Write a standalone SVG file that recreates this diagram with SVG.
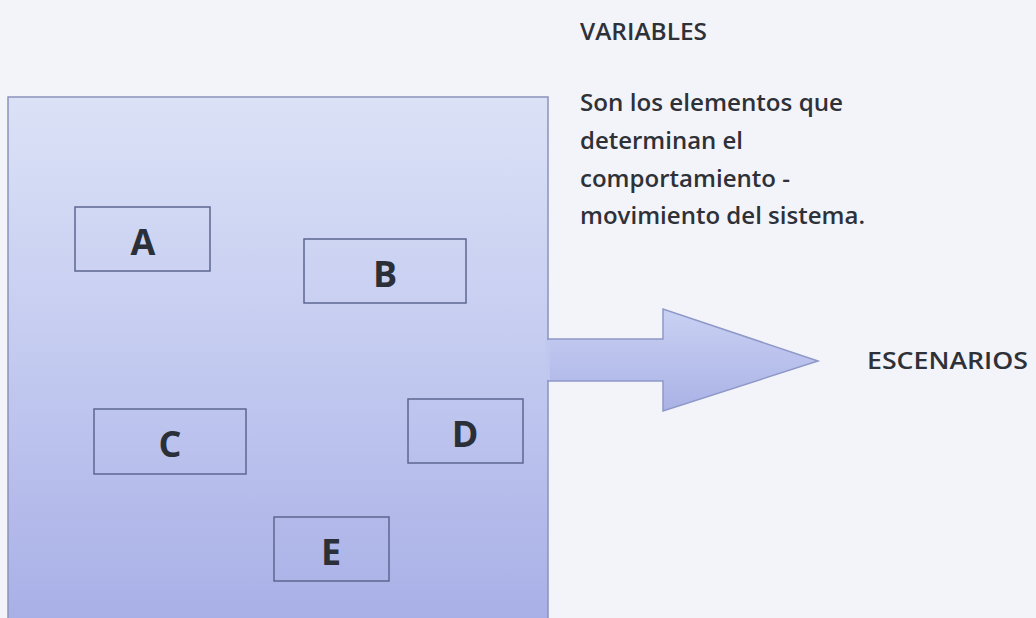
<svg xmlns="http://www.w3.org/2000/svg" width="1036" height="618" viewBox="0 0 1036 618">
  <style>
    .box { fill: none; stroke: #5c6790; stroke-width: 1.5; }
    .lbl { font-family: "Open Sans", "Liberation Sans", Arial, sans-serif; font-weight: bold; font-size: 36px; fill: #2b3038; text-anchor: middle; }
    .txt { font-family: "Open Sans", "Liberation Sans", Arial, sans-serif; font-weight: 600; font-size: 23px; fill: #2e3138; }
  </style>
  <defs>
    <linearGradient id="panelGrad" x1="0" y1="0" x2="0" y2="1">
      <stop offset="0" stop-color="#dbe2f6"/>
      <stop offset="0.5" stop-color="#c3caf0"/>
      <stop offset="1" stop-color="#a8afe6"/>
    </linearGradient>
    <linearGradient id="arrowGrad" x1="0" y1="0" x2="0" y2="1">
      <stop offset="0" stop-color="#c9d1f3"/>
      <stop offset="1" stop-color="#aab2e6"/>
    </linearGradient>
  </defs>
  <rect x="0" y="0" width="1036" height="618" fill="#f3f4f9"/>
  <g id="panel">
    <rect x="8" y="97" width="540" height="530" fill="url(#panelGrad)" stroke="#8a93bb" stroke-width="1.5"/>
  </g>
  <g id="connectors">
    <path d="M548 339 L663 339 L663 309 L818 361 L663 411 L663 381 L548 381 Z" fill="url(#arrowGrad)" stroke="#8e98c8" stroke-width="1.5"/>
    <rect x="546" y="340" width="4" height="40" fill="#c0c8f0"/>
  </g>
  <g id="nodeA">
    <rect class="box" x="75" y="207" width="135" height="64"/>
    <text class="lbl" x="143" y="255">A</text>
  </g>
  <g id="nodeB">
    <rect class="box" x="304" y="239" width="162" height="64"/>
    <text class="lbl" x="385" y="287">B</text>
  </g>
  <g id="nodeC">
    <rect class="box" x="94" y="409" width="152" height="65"/>
    <text class="lbl" x="170" y="457">C</text>
  </g>
  <g id="nodeD">
    <rect class="box" x="408" y="399" width="115" height="64"/>
    <text class="lbl" x="465" y="447">D</text>
  </g>
  <g id="nodeE">
    <rect class="box" x="274" y="517" width="115" height="64"/>
    <text class="lbl" x="331" y="565">E</text>
  </g>
  <g id="variables">
    <text class="txt" x="580" y="40" textLength="127" lengthAdjust="spacingAndGlyphs">VARIABLES</text>
    <text class="txt" x="580" y="111" textLength="263" lengthAdjust="spacingAndGlyphs">Son los elementos que</text>
    <text class="txt" x="580" y="149" textLength="163" lengthAdjust="spacingAndGlyphs">determinan el</text>
    <text class="txt" x="580" y="187" textLength="210" lengthAdjust="spacingAndGlyphs">comportamiento -</text>
    <text class="txt" x="580" y="224" textLength="285" lengthAdjust="spacingAndGlyphs">movimiento del sistema.</text>
  </g>
  <g id="escenarios">
    <text class="txt" x="867" y="369" textLength="161" lengthAdjust="spacingAndGlyphs">ESCENARIOS</text>
  </g>
</svg>
